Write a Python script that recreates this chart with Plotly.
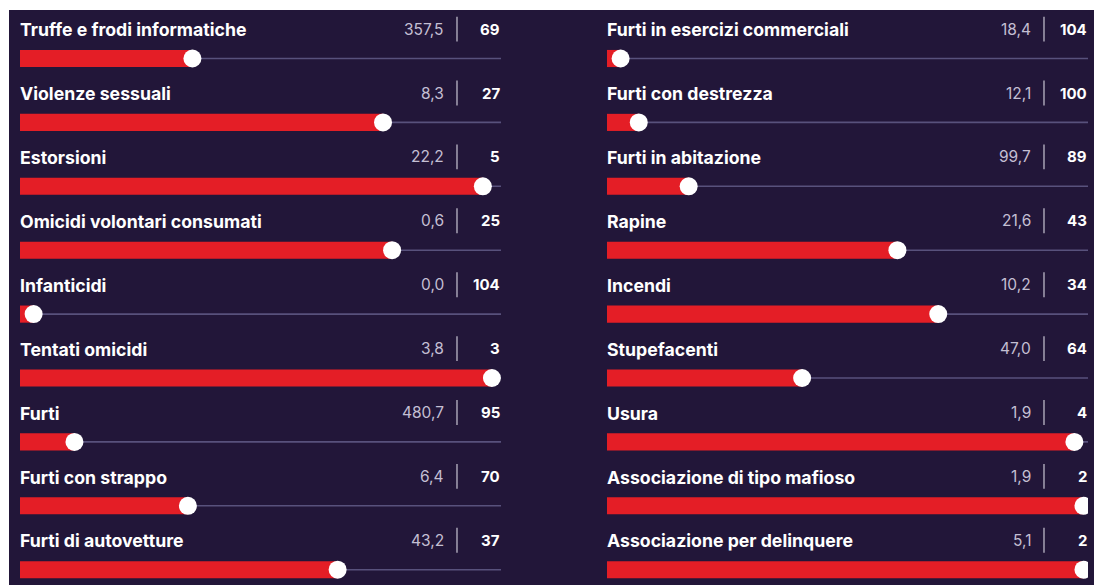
import plotly.graph_objects as go

# ---- data ----
left_labels = ["Truffe e frodi informatiche", "Violenze sessuali", "Estorsioni",
               "Omicidi volontari consumati", "Infanticidi", "Tentati omicidi",
               "Furti", "Furti con strappo", "Furti di autovetture"]
left_values = [357.5, 8.3, 22.2, 0.6, 0.0, 3.8, 480.7, 6.4, 43.2]
left_ranks = [69, 27, 5, 25, 104, 3, 95, 70, 37]

right_labels = ["Furti in esercizi commerciali", "Furti con destrezza", "Furti in abitazione",
                "Rapine", "Incendi", "Stupefacenti", "Usura",
                "Associazione di tipo mafioso", "Associazione per delinquere"]
right_values = [18.4, 12.1, 99.7, 21.6, 10.2, 47.0, 1.9, 1.9, 5.1]
right_ranks = [104, 100, 89, 43, 34, 64, 4, 2, 2]

N_PROV = 107

# ---- style ----
W, H = 1094, 585
BG = "#221639"
RED = "#e41e26"
TRACK = "#58517c"
VALCOL = "#c4bfd3"
SEPCOL = "#bdb8c9"
FONT = "Inter"

row0_px = 58.5
row_px = 63.9
y_top = -row0_px / row_px
y_bot = (H - row0_px) / row_px

fig = go.Figure()

def frac(r):
    return (N_PROV - r) / (N_PROV - 1)

columns = [
    ("x", "y", left_labels, left_values, left_ranks),
    ("x2", "y", right_labels, right_values, right_ranks),
]

annotations = []
shapes = [dict(type="rect", xref="paper", yref="paper", x0=9 / W, x1=1, y0=0, y1=(H - 10) / H,
               fillcolor=BG, line=dict(width=0), layer="below")]

for xa, ya, labels, values, ranks in columns:
    rows = list(range(len(labels)))
    fr = [frac(r) for r in ranks]
    for i in rows:
        shapes.append(dict(type="line", xref=xa, yref=ya, x0=0, x1=1, y0=i, y1=i,
                           line=dict(color=TRACK, width=1.6), layer="below"))
        shapes.append(dict(type="line", xref=xa, yref=ya, x0=0.9085, x1=0.9085,
                           y0=i - 0.46 - 0.195, y1=i - 0.46 + 0.195,
                           line=dict(color=SEPCOL, width=1.3)))
    fig.add_trace(go.Bar(x=fr, y=rows, orientation="h", width=0.268, base=0,
                         marker=dict(color=RED, line=dict(width=0)),
                         xaxis=xa, yaxis=ya, hoverinfo="skip", showlegend=False))
    fig.add_trace(go.Scatter(x=fr, y=rows, mode="markers",
                             marker=dict(color="white", size=18, line=dict(width=0)),
                             xaxis=xa, yaxis=ya, hoverinfo="skip", showlegend=False,
                             cliponaxis=True))
    for i, (lab, v, r) in enumerate(zip(labels, values, ranks)):
        annotations.append(dict(xref=xa, yref=ya, x=0, y=i - 0.45, text=lab, showarrow=False,
                                xanchor="left", yanchor="middle", xshift=-2,
                                font=dict(family=FONT, size=17.7, color="white", weight=700)))
        annotations.append(dict(xref=xa, yref=ya, x=0.882, y=i - 0.46,
                                text=f"{v:.1f}".replace(".", ","), showarrow=False,
                                xanchor="right", yanchor="middle", xshift=2,
                                font=dict(family=FONT, size=15.5, color=VALCOL)))
        annotations.append(dict(xref=xa, yref=ya, x=0.997, y=i - 0.46, text=str(r),
                                showarrow=False, xanchor="right", yanchor="middle", xshift=2,
                                font=dict(family=FONT, size=15, color="white", weight=700)))

axis_common = dict(range=[0, 1], showgrid=False, zeroline=False, showticklabels=False,
                   showline=False, fixedrange=True)
fig.update_layout(
    width=W, height=H,
    margin=dict(l=0, r=0, t=0, b=0),
    paper_bgcolor="white", plot_bgcolor="rgba(0,0,0,0)",
    barmode="overlay",
    xaxis=dict(domain=[20 / W, 501 / W], **axis_common),
    xaxis2=dict(domain=[607 / W, 1088 / W], **axis_common),
    yaxis=dict(range=[y_bot, y_top], domain=[0, 1], showgrid=False, zeroline=False,
               showticklabels=False, showline=False, fixedrange=True),
    shapes=shapes,
    annotations=annotations,
)

fig.write_html("out.html", config={"displayModeBar": False},
               post_script="document.body.style.margin='0';document.body.style.overflow='hidden';")
